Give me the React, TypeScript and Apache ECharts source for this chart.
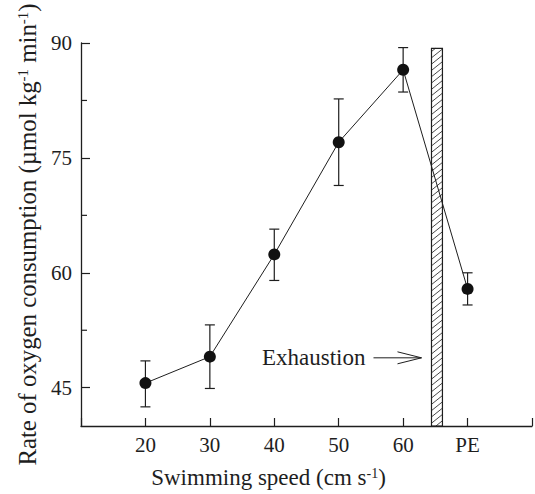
import React, { useEffect, useRef } from "react";
import * as echarts from "echarts";

// ---- data ----
const speedPositions = [20, 30, 40, 50, 60, 70]; // 70 is where "PE" sits
const xTickLabels: Record<number, string> = { 20: "20", 30: "30", 40: "40", 50: "50", 60: "60", 70: "PE" };
const meanRate = [45.6, 49.05, 62.4, 77.05, 86.5, 57.9];
const errLow = [42.5, 44.9, 59.0, 71.4, 83.6, 55.8];
const errHigh = [48.5, 53.2, 65.7, 82.7, 89.4, 60.0];
const yLabelValues = [45, 60, 75, 90];
const yMinorTickValues = [52.5, 67.5, 82.5];
// exhaustion bar: x start, x end, top, annotation y
const exhaustionBar = [64.4, 66.1, 89.3, 48.9];
const exhaustionText = "Exhaustion";

const FONT = "'Liberation Serif', 'Times New Roman', serif";
const INK = "#1e1e1e";

export default function App() {
  const ref = useRef<HTMLDivElement>(null);
  useEffect(() => {
    document.body.style.margin = "0";
    const chart = echarts.init(ref.current!, null, { renderer: "svg" });
    const lineData = speedPositions.map((x, i) => [x, meanRate[i]]);
    const errData = speedPositions.map((x, i) => [x, errLow[i], errHigh[i]]);
    chart.setOption({
      animation: false,
      backgroundColor: "#fff",
      grid: { left: 81, top: 43, right: 2, bottom: 63 },
      xAxis: {
        type: "value",
        min: 10,
        max: 80,
        interval: 10,
        name: "{n|Swimming speed (cm s}{s|-1}{n|)}",
        nameLocation: "middle",
        nameGap: 40,
        nameTextStyle: {
          padding: [0, 76, 0, 0],
          rich: {
            n: { fontSize: 23, fontFamily: FONT, color: INK },
            s: { fontSize: 14, fontFamily: FONT, color: INK, verticalAlign: "top" },
          },
        },
        axisLine: { lineStyle: { color: INK, width: 1.3 } },
        axisTick: { inside: true, length: 8, lineStyle: { color: INK, width: 1.2 } },
        axisLabel: {
          margin: 8,
          fontSize: 21,
          fontFamily: FONT,
          color: INK,
          formatter: (v: number) => xTickLabels[v] ?? "",
        },
        splitLine: { show: false },
      },
      yAxis: {
        type: "value",
        min: 40,
        max: 90,
        name: "{n|Rate of oxygen consumption (µmol kg}{s|-1}{n| min}{s|-1}{n|)}",
        nameLocation: "middle",
        nameRotate: 90,
        nameGap: 40,
        nameTextStyle: {
          rich: {
            n: { fontSize: 24.8, fontFamily: FONT, color: INK },
            s: { fontSize: 15, fontFamily: FONT, color: INK, verticalAlign: "top" },
          },
        },
        axisLine: { show: true, lineStyle: { color: INK, width: 1.3 } },
        axisTick: { show: true, inside: true, length: 9, customValues: yLabelValues, lineStyle: { color: INK, width: 1.2 } },
        axisLabel: { margin: 9, fontSize: 21, fontFamily: FONT, color: INK, customValues: yLabelValues },
        splitLine: { show: false },
      },
      series: [
        {
          type: "custom",
          z: 1,
          data: [exhaustionBar],
          encode: { x: [0, 1], y: [2] },
          renderItem: (_p: any, api: any) => {
            const x0 = api.value(0), x1 = api.value(1), top = api.value(2), ann = api.value(3);
            const p0 = api.coord([x0, top]);
            const p1 = api.coord([x1, 40]);
            const L = p0[0], T = p0[1], R = p1[0], B = p1[1];
            const children: any[] = [];
            const s = 0.8, d = 6.3, W = R - L;
            for (let c = T + d / 2; c < B + s * W; c += d) {
              const xa = Math.max(L, L + (c - B) / s);
              const xb = Math.min(R, L + (c - T) / s);
              if (xb > xa) {
                children.push({
                  type: "line",
                  shape: { x1: xa, y1: c - s * (xa - L), x2: xb, y2: c - s * (xb - L) },
                  style: { stroke: "#333", lineWidth: 0.9 },
                });
              }
            }
            children.push({
              type: "rect",
              shape: { x: L, y: T, width: R - L, height: B - T },
              style: { fill: "none", stroke: INK, lineWidth: 1.2 },
            });
            const ay = api.coord([x0, ann])[1];
            const tip = L - 10;
            const start = tip - 48;
            children.push({ type: "line", shape: { x1: start, y1: ay, x2: tip, y2: ay }, style: { stroke: INK, lineWidth: 1 } });
            children.push({ type: "line", shape: { x1: tip - 24, y1: ay - 6, x2: tip, y2: ay }, style: { stroke: INK, lineWidth: 1 } });
            children.push({ type: "line", shape: { x1: tip - 24, y1: ay + 6, x2: tip, y2: ay }, style: { stroke: INK, lineWidth: 1 } });
            children.push({
              type: "text",
              x: start - 8,
              y: ay,
              style: { text: exhaustionText, fill: INK, fontSize: 23, fontFamily: FONT, align: "right", verticalAlign: "middle" },
            });
            // minor y-axis ticks, placed through the y scale
            for (const v of yMinorTickValues) {
              const q = api.coord([10, v]);
              children.push({
                type: "line",
                shape: { x1: q[0], y1: q[1], x2: q[0] + 6, y2: q[1] },
                style: { stroke: INK, lineWidth: 1.2 },
              });
            }
            return { type: "group", children };
          },
        },
        {
          type: "custom",
          z: 2,
          data: errData,
          encode: { x: 0, y: [1, 2] },
          renderItem: (_p: any, api: any) => {
            const x = api.value(0);
            const lo = api.coord([x, api.value(1)]);
            const hi = api.coord([x, api.value(2)]);
            const cw = 5;
            const st = { stroke: INK, lineWidth: 1.2 };
            return {
              type: "group",
              children: [
                { type: "line", shape: { x1: lo[0], y1: lo[1], x2: hi[0], y2: hi[1] }, style: st },
                { type: "line", shape: { x1: hi[0] - cw, y1: hi[1], x2: hi[0] + cw, y2: hi[1] }, style: st },
                { type: "line", shape: { x1: lo[0] - cw, y1: lo[1], x2: lo[0] + cw, y2: lo[1] }, style: st },
              ],
            };
          },
        },
        {
          type: "line",
          z: 3,
          data: lineData,
          symbol: "circle",
          symbolSize: 12,
          itemStyle: { color: "#111", borderWidth: 0 },
          lineStyle: { color: INK, width: 1 },
        },
      ],
    });
    return () => chart.dispose();
  }, []);
  return <div ref={ref} style={{ width: 535, height: 494 }} />;
}
